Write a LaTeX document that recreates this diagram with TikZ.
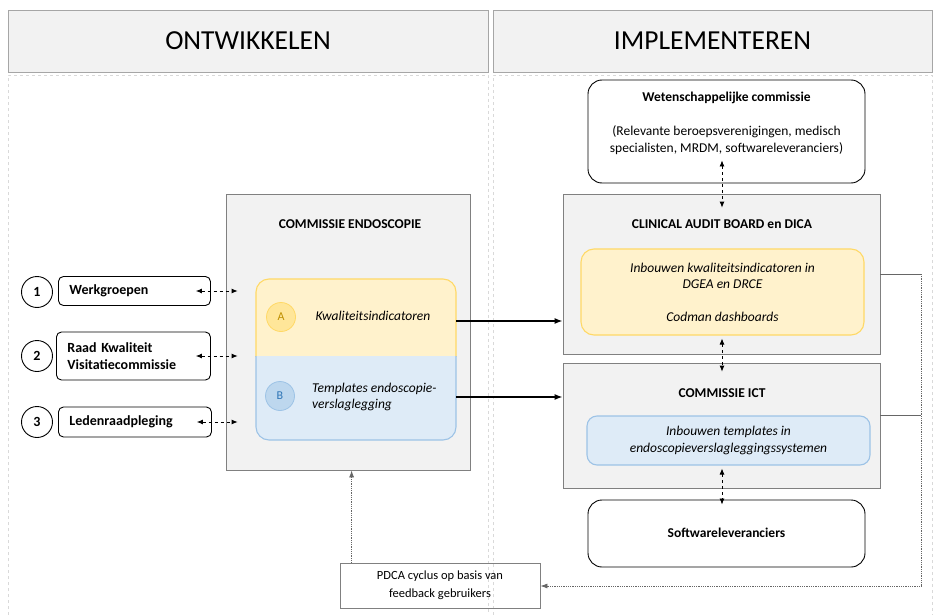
\documentclass[tikz,border=0pt]{standalone}
\usepackage{fontspec}
\setmainfont{Carlito}
\usetikzlibrary{arrows.meta,positioning}

\definecolor{kopgrijs}{HTML}{F2F2F2}
\definecolor{randgrijs}{HTML}{A6A6A6}
\definecolor{lijngrijs}{HTML}{D9D9D9}
\definecolor{geelvul}{HTML}{FFF2CC}
\definecolor{geelrand}{HTML}{FFD966}
\definecolor{geelcirkel}{HTML}{FFE699}
\definecolor{geeltekst}{HTML}{BF9000}
\definecolor{blauwvul}{HTML}{DEEBF7}
\definecolor{blauwrand}{HTML}{9DC3E6}
\definecolor{blauwcirkel}{HTML}{BDD7EE}
\definecolor{blauwtekst}{HTML}{2E75B6}

\tikzset{
  kop/.style={draw=randgrijs, fill=kopgrijs, line width=0.8pt, minimum height=62pt, font=\fontsize{27.5}{32}\selectfont},
  kolom/.style={draw=lijngrijs, dashed, line width=0.6pt},
  orgaan/.style={draw=gray, fill=kopgrijs, line width=0.8pt},
  titel/.style={font=\bfseries\fontsize{13.5}{16}\selectfont},
  groep/.style={draw, rounded corners=5pt, line width=0.9pt, align=left, inner xsep=11pt, font=\bfseries\fontsize{14}{17}\selectfont},
  nummer/.style={draw, circle, line width=0.9pt, minimum size=31pt, inner sep=0pt, font=\bfseries\fontsize{14}{16}\selectfont},
  partij/.style={draw, rounded corners=14pt, line width=0.9pt},
  cursief/.style={font=\itshape\fontsize{13.5}{16.5}\selectfont, align=center},
  letter/.style={circle, minimum size=29pt, inner sep=0pt, line width=0.8pt, font=\fontsize{12}{14}\selectfont},
  wissel/.style={dashed, line width=0.8pt, {Latex[length=6pt,width=5pt]}-{Latex[length=6pt,width=5pt]}},
  stroom/.style={line width=1.4pt, -{Latex[length=8pt,width=6pt]}},
  terug/.style={draw=gray!80!black, densely dotted, line width=0.8pt, -{Latex[length=7pt,width=5pt]}}
}

\begin{document}
\begin{tikzpicture}[x=1pt, y=-1pt]
\useasboundingbox (0,0) rectangle (934,615);

% kolommen
\node[kop, minimum width=480pt] (hont) at (248,41) {ONTWIKKELEN};
\node[kop, minimum width=439pt] (himp) at (712.5,41) {IMPLEMENTEREN};
\draw[kolom] (8,615) -- (8,75) -- (488,75) -- (488,615);
\draw[kolom] (493,615) -- (493,75) -- (932,75) -- (932,615);

% ontwikkelen
\node[orgaan, minimum width=244pt, minimum height=276pt] (endo) at (348,332) {};
\node[titel] (tendo) at (350,224) {COMMISSIE ENDOSCOPIE};

\begin{scope}
  \clip (200,250) rectangle (480,356);
  \draw[fill=geelvul, draw=geelrand, line width=1.1pt, rounded corners=13pt] (256,279) rectangle (456,440);
\end{scope}
\begin{scope}
  \clip (200,356) rectangle (480,460);
  \draw[fill=blauwvul, draw=blauwrand, line width=1.1pt, rounded corners=13pt] (256,279) rectangle (456,440);
\end{scope}
\node[minimum width=200pt, minimum height=161pt] (ab) at (356,359.5) {};

\node[letter, fill=geelcirkel, draw=geelrand, text=geeltekst] (ca) at (281,317) {A};
\node[letter, fill=blauwcirkel, draw=blauwrand, text=blauwtekst] (cb) at (280,396) {B};
\node[cursief] (ki) at (373,316) {Kwaliteitsindicatoren};
\node[cursief, align=left, anchor=west, inner xsep=0pt] (te) at (312,397) {Templates endoscopie-\\verslaglegging};

\node[nummer] (n1) at (37,292) {1};
\node[nummer] (n2) at (37,356) {2};
\node[nummer] (n3) at (37,422) {3};
\node[groep, text width=130pt, minimum height=29pt, anchor=west] (wg) at (58,291) {Werkgroepen};
\node[groep, text width=132pt, minimum height=48pt, anchor=west] (rk) at (56,356) {Raad Kwaliteit\\Visitatiecommissie};
\node[groep, text width=131pt, minimum height=30pt, anchor=west] (lr) at (58,422) {Ledenraadpleging};

\draw[wissel] ([xshift=-15pt]wg.east) -- ([xshift=12pt]wg.east -| endo.west);
\draw[wissel] ([xshift=-15pt]rk.east) -- ([xshift=12pt]rk.east -| endo.west);
\draw[wissel] ([xshift=-15pt]lr.east) -- ([xshift=12pt]lr.east -| endo.west);

% implementeren
\node[partij, minimum width=277pt, minimum height=103pt] (wet) at (726.5,131.5) {};
\node[titel] (twet) at (726.5,98) {Wetenschappelijke commissie};
\node[font=\fontsize{13.5}{16.5}\selectfont, align=center] (owet) at (726.5,140) {(Relevante beroepsverenigingen, medisch\\specialisten, MRDM, softwareleveranciers)};

\node[orgaan, minimum width=317pt, minimum height=160pt] (cab) at (721.5,274) {};
\node[titel] (tcab) at (722,224) {CLINICAL AUDIT BOARD en DICA};
\node[cursief, draw=geelrand, fill=geelvul, line width=1.1pt, rounded corners=13pt, minimum width=283pt, minimum height=86pt] (geel) at (722.5,292) {Inbouwen kwaliteitsindicatoren in\\DGEA en DRCE\\[16pt]Codman dashboards};

\node[orgaan, minimum width=317pt, minimum height=125pt] (ict) at (721.5,425.5) {};
\node[titel] (tict) at (722,393) {COMMISSIE ICT};
\node[cursief, draw=blauwrand, fill=blauwvul, line width=1.1pt, rounded corners=10pt, minimum width=283pt, minimum height=49pt] (blauw) at (728.5,440.5) {Inbouwen templates in\\endoscopieverslagleggingssystemen};

\node[partij, minimum width=277pt, minimum height=67pt] (sw) at (726.5,533.5) {};
\node[titel] (tsw) at (726.5,533) {Softwareleveranciers};

\draw[wissel] ([yshift=23pt]wet.south -| tcab) -- ([yshift=-14pt]cab.north -| tcab);
\draw[wissel] ([yshift=-3pt]geel.south -| tcab) -- ([yshift=-9pt]ict.north -| tcab);
\draw[wissel] ([yshift=-3pt]blauw.south -| tcab) -- ([yshift=-5pt]sw.north -| tcab);

\draw[stroom] (ab.east |- 0,321) -- (cab.west |- 0,321);
\draw[stroom] (ab.east |- te) -- (ict.west |- te);

% terugkoppeling
\node[draw=gray, line width=0.8pt, minimum width=200pt, minimum height=45pt, align=center, font=\fontsize{12.5}{18}\selectfont] (pdca) at (440,585.5) {PDCA cyclus op basis van\\feedback gebruikers};
\coordinate (hoek1) at (921,274);
\coordinate (hoek2) at (921,415);
\coordinate (hoek3) at (921,586);
\draw[gray!80!black, line width=0.7pt] (cab.east |- hoek1) -- (hoek1);
\draw[gray!80!black, line width=0.7pt] (ict.east |- hoek2) -- (hoek2);
\draw[terug] (hoek1) -- (hoek3) -- (pdca.east |- hoek3);
\draw[terug] ([xshift=12pt]pdca.north west) -- ([xshift=12pt]pdca.north west |- endo.south);
\end{tikzpicture}
\end{document}
